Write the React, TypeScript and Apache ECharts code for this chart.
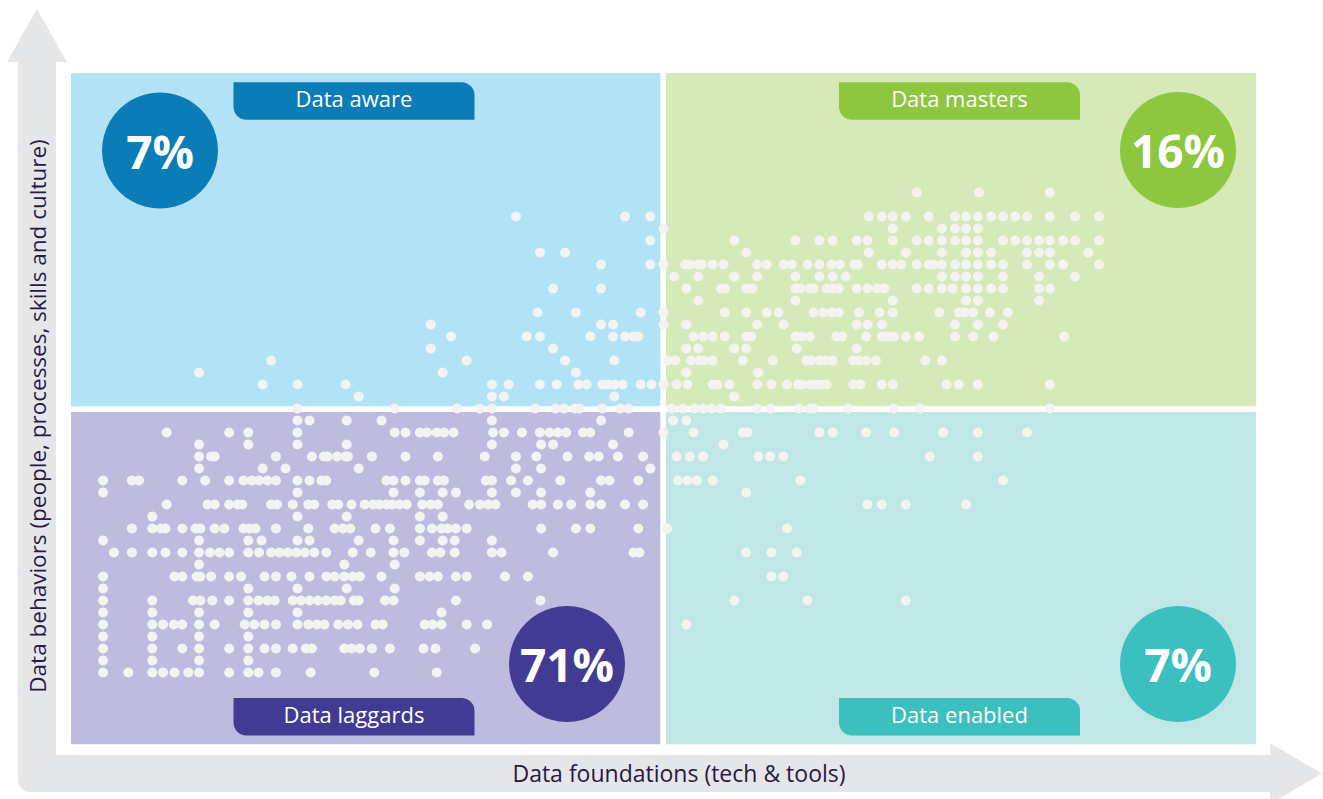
import { useEffect, useRef } from "react";
import * as echarts from "echarts";

// ---- Data ----
const quadrantNames = ["Data aware", "Data masters", "Data laggards", "Data enabled"];
const quadrantShares = ["7%", "16%", "71%", "7%"];
const xAxisTitle = "Data foundations (tech & tools)";
const yAxisTitle = "Data behaviors (people, processes, skills and culture)";

// behaviour level of each row of respondents (0 = threshold between low and high)
const behaviourLevels = [
  18, 16, 15, 14, 13, 12, 11, 10, 9, 8, 7, 6, 5, 4, 3, 2, 1, 0,
  -1, -2, -3, -4, -5, -6, -7, -8, -9, -10, -11, -12, -13, -14, -15, -16, -17, -18, -19, -20, -21, -22,
];

// foundation scores of the respondents in each row (0 = threshold)
const foundationScores: number[][] = [
  [21.1, 26.3, 32.2],
  [-12.3, -3.2, -1.1, 17.1, 18.2, 19.1, 20.2, 22.1, 24.3, 25.2, 26.2, 27.3, 28.3, 29.3, 30.3, 32.2, 34.3, 36.3],
  [0, 19.1, 23.2, 24.3, 25.2, 26.2],
  [-1.1, 5.9, 11.0, 13.0, 14.1, 16.1, 17.0, 19.1, 21.1, 22.1, 23.2, 24.3, 25.2, 26.2, 28.3, 29.3, 30.3, 31.3, 32.2, 33.3, 34.3, 36.3],
  [-10.3, -8.2, 6.9, 17.1, 20.2, 23.2, 25.2, 26.2, 27.3, 30.3, 31.3, 32.2, 35.4],
  [-5.2, -1.1, 0, 1.8, 2.2, 2.9, 3.2, 4.1, 5.0, 7.8, 8.6, 10.0, 10.7, 12.0, 13.0, 14.0, 14.7, 15.9, 16.2, 18.2, 19.1, 19.8, 21.1, 22.1, 22.5, 23.2, 24.3, 25.2, 26.2, 27.3, 28.3, 30.3, 32.2, 33.3, 36.3],
  [0.9, 2.9, 5.9, 7.8, 11.0, 13.0, 14.1, 15.2, 23.2, 24.3, 25.2, 26.2, 28.3, 31.3, 34.3],
  [-9.2, -5.2, 1.9, 4.8, 5.1, 6.9, 7.4, 11.0, 11.4, 12.2, 12.5, 13.6, 14.1, 14.6, 16.1, 17.0, 17.8, 18.4, 21.1, 22.1, 23.2, 24.1, 25.2, 26.2, 27.3, 28.3, 31.3, 32.2],
  [2.9, 11.0, 19.1, 25.2, 26.2, 31.3],
  [-10.5, -7.3, -1.9, 0, 5.1, 6.9, 8.6, 9.6, 12.5, 13.3, 14.0, 14.6, 16.3, 18.0, 19.1, 23.0, 24.6, 25.1, 25.8, 27.2, 28.7],
  [-19.4, -5.2, -4.2, 0, 1.9, 7.8, 10.0, 16.1, 17.0, 18.2, 24.3, 26.2, 28.3],
  [-17.7, -11.4, -10.3, -6.1, -4.2, -3.2, -2.5, -2.1, 2.5, 3.3, 4.1, 5.1, 6.9, 7.3, 11.0, 11.5, 12.2, 14.4, 14.9, 16.9, 18.2, 18.7, 19.2, 20.2, 21.3, 24.3, 25.8, 27.5, 33.4],
  [-19.4, -9.2, 1.9, 2.9, 5.9, 6.9, 11.1, 16.1],
  [-32.7, -16.4, -8.2, -4.1, 0.4, 1.0, 2.3, 3.0, 3.4, 4.1, 6.6, 9.1, 11.9, 12.3, 13.0, 13.5, 14.1, 15.8, 16.3, 16.9, 17.7, 21.8, 23.2],
  [-38.7, -18.4, -7.3, 1.9, 7.9],
  [-33.4, -30.5, -26.5, -14.3, -12.9, -10.3, -8.9, -7.1, -6.4, -5.1, -4.6, -4.1, -3.4, -1.9, -1.0, 0, 1.1, 2.0, 4.1, 4.5, 5.5, 7.8, 9.0, 10.3, 11.2, 11.5, 12.2, 12.7, 13.2, 13.6, 15.8, 16.4, 18.2, 19.1, 23.6, 24.6, 26.2, 32.2],
  [-25.4, -14.3, -13.3, -4.1, 5.9],
  [-30.5, -22.4, -17.2, -15.3, -14.3, -10.7, -9.0, -8.3, -7.4, -7.0, -5.1, -3.6, -2.9, 0.7, 1.6, 2.6, 3.3, 4.0, 4.8, 7.8, 8.9, 11.3, 12.2, 12.5, 15.4, 19.2, 21.4, 32.2],
  [-30.5, -29.5, -26.4, -23.5, -14.3, -5.2, 0.8, 1.9],
  [-41.4, -36.2, -34.6, -30.5, -22.4, -21.5, -20.3, -19.7, -18.9, -18.3, -17.5, -14.2, -13.3, -11.8, -10.3, -9.5, -8.8, -8.1, -6.7, -6.1, -2.9, 0, 2.5, 6.6, 7.0, 13.0, 14.1, 16.9, 19.2, 23.3, 26.2, 30.3],
  [-38.7, -34.6, -30.5, -26.4, -14.3, -10.2, -9.2, -4.2, 5.0],
  [-38.7, -37.7, -37.4, -32.3, -29.3, -28.3, -28.0, -27.2, -26.5, -26.3, -24.3, -21.5, -18.8, -14.9, -12.3, -10.6, -8.0, -6.2, -5.4, -3.8, -1.7, 1.1, 2.2, 3.3, 7.9, 8.9, 10.0, 22.2, 26.2],
  [-38.7, -33.4, -31.5, -25.4, -12.3, -10.2, -1.1],
  [-46.7, -44.3, -43.7, -40.1, -38.2, -36.2, -35.0, -34.3, -33.7, -33.0, -32.3, -30.5, -29.5, -28.5, -28.1, -23.1, -22.5, -21.5, -20.3, -19.9, -18.8, -18.3, -14.8, -14.3, -12.7, -11.3, -8.6, -5.2, -4.5, -2.1, 1.2, 2.0, 2.8, 4.1, 11.4, 28.3],
  [-46.7, -30.5, -22.5, -20.3, -18.4, -17.3, -14.3, -12.3, -10.2, -6.1, 6.9],
  [-41.4, -38.0, -37.4, -36.2, -35.5, -35.1, -32.7, -32.2, -30.9, -29.6, -29.1, -27.6, -27.1, -26.0, -24.9, -24.2, -23.7, -23.1, -22.6, -22.0, -21.4, -20.1, -19.4, -18.8, -16.2, -15.3, -14.6, -14.0, -10.9, -10.2, -8.8, -7.7, -6.1, -5.2, -3.2, -1.7, 17.0, 18.2, 20.2, 25.2],
  [-42.6, -30.5, -26.4, -20.3, -18.4],
  [-44.3, -42.6, -41.9, -41.5, -40.1, -39.0, -38.6, -37.4, -36.6, -35.0, -34.5, -34.0, -32.3, -29.6, -27.4, -26.7, -26.1, -24.0, -22.8, -20.3, -19.3, -18.5, -18.0, -17.3, -16.4, -10.2, -7.3, -6.1, -2.1, 0.3, 10.3],
  [-46.7, -38.7, -34.6, -33.5, -30.5, -29.5, -25.4, -22.5, -20.3, -18.4, -17.4, -14.3],
  [-45.8, -44.3, -42.6, -41.5, -40.1, -38.7, -37.8, -37.0, -36.2, -34.6, -33.7, -32.7, -32.0, -31.3, -30.6, -29.9, -29.1, -28.1, -25.9, -24.4, -22.5, -21.6, -19.3, -18.6, -17.4, -14.3, -13.5, -9.2, -2.5, -2.0, 6.9, 9.0, 11.1],
  [-38.7, -26.6, -22.4],
  [-46.7, -40.75, -40.1, -38.9, -38.6, -37.7, -36.2, -35.2, -33.25, -32.3, -31.0, -29.5, -28.1, -27.4, -26.6, -25.9, -25.3, -23.5, -20.3, -19.5, -18.8, -17.3, -16.4, -13.2, -11.3, 9.0, 10.0],
  [-46.7, -34.6, -30.5, -26.4, -22.4],
  [-46.7, -42.6, -39.2, -38.6, -37.6, -36.2, -34.6, -33.75, -33.0, -32.4, -30.9, -30.2, -29.5, -28.8, -28.1, -27.4, -26.9, -25.8, -25.4, -23.2, -22.5, -17.3, -10.25, 5.9, 12.0, 20.2],
  [-46.7, -42.6, -38.7, -34.6, -30.5, -18.5],
  [-46.7, -42.6, -41.7, -40.8, -40.1, -38.7, -37.4, -34.9, -34.1, -33.25, -32.3, -30.5, -29.6, -28.9, -28.25, -27.1, -26.3, -25.5, -24.0, -23.4, -19.9, -19.25, -18.5, -16.4, -14.7, 1.9],
  [-46.7, -42.6, -38.7, -34.6],
  [-46.7, -42.6, -40.1, -38.7, -36.2, -34.6, -33.25, -32.3, -30.9, -29.8, -29.3, -26.6, -26.0, -25.3, -24.3, -22.8, -20.0, -19.0, -15.7],
  [-46.7, -42.6, -38.7, -34.6],
  [-46.7, -44.6, -42.6, -41.7, -40.75, -39.6, -38.7, -36.2, -34.6, -33.75, -32.3, -29.4, -24.1, -18.9],
];

const axisExtentX = 49.375;
const axisExtentY = 27.96;

// ---- Styles ----
const accentColors = ["#0A7DB8", "#8DC63F", "#423B94", "#3CBFBF"];
const panelColors = ["#B2E2F5", "#D6E9B8", "#BDBCDF", "#C0E6E6"];
const dotColor = "#F3F3F1";
const arrowColor = "#E5E6E8";
const titleColor = "#2A1848";
const FONT = "'Open Sans', 'Noto Sans', sans-serif";

const panelRects = [
  { x: 71, y: 73, width: 589.3, height: 333.3 },
  { x: 666, y: 73, width: 590, height: 333.3 },
  { x: 71, y: 412, width: 589.3, height: 332.3 },
  { x: 666, y: 412, width: 590, height: 332.3 },
];
const tabRects = [
  { x: 233.5, y: 82.3, width: 241, height: 37.5 },
  { x: 839, y: 82.3, width: 241, height: 37.5 },
  { x: 233.5, y: 698, width: 241, height: 37.5 },
  { x: 839, y: 698, width: 241, height: 37.5 },
];
const badgeCenters = [
  { cx: 160, cy: 150.5 },
  { cx: 1178, cy: 150 },
  { cx: 567, cy: 664 },
  { cx: 1178, cy: 664 },
];

export default function App() {
  const ref = useRef<HTMLDivElement>(null);

  useEffect(() => {
    document.body.style.margin = "0";
    if (!ref.current) return;
    const chart = echarts.init(ref.current, undefined, { renderer: "svg" });

    const points = behaviourLevels.flatMap((level, i) =>
      foundationScores[i].map((score) => [score, level])
    );

    const elements: any[] = [];
    // axis arrows
    elements.push(
      { type: "rect", z: 0, shape: { x: 18, y: 60, width: 38, height: 732, r: [0, 0, 0, 12] }, style: { fill: arrowColor } },
      { type: "rect", z: 0, shape: { x: 18, y: 755, width: 1256, height: 37, r: [0, 0, 0, 12] }, style: { fill: arrowColor } },
      { type: "polygon", z: 0, shape: { points: [[37, 9], [67, 62], [7, 62]] }, style: { fill: arrowColor } },
      { type: "polygon", z: 0, shape: { points: [[1322, 773.5], [1270, 743], [1270, 804]] }, style: { fill: arrowColor } }
    );
    panelRects.forEach((r, i) => {
      elements.push({ type: "rect", z: 0, shape: r, style: { fill: panelColors[i] } });
    });
    tabRects.forEach((r, i) => {
      elements.push({
        type: "rect",
        z: 10,
        shape: { ...r, r: [0, 13, 0, 13] },
        style: { fill: accentColors[i] },
      });
      elements.push({
        type: "text",
        z: 11,
        x: r.x + r.width / 2,
        y: r.y + 16,
        style: {
          text: quadrantNames[i],
          fill: "#FFFFFF",
          fontSize: 22,
          fontFamily: FONT,
          fontWeight: 400,
          textAlign: "center",
          align: "center",
          textVerticalAlign: "middle",
          verticalAlign: "middle",
        },
      });
    });
    badgeCenters.forEach((c, i) => {
      elements.push({ type: "circle", z: 10, shape: { cx: c.cx, cy: c.cy, r: 58 }, style: { fill: accentColors[i] } });
      elements.push({
        type: "text",
        z: 11,
        x: c.cx,
        y: c.cy,
        style: {
          text: quadrantShares[i],
          fill: "#FFFFFF",
          fontSize: 46,
          fontFamily: FONT,
          fontWeight: "bold",
          textAlign: "center",
          align: "center",
          textVerticalAlign: "middle",
          verticalAlign: "middle",
        },
      });
    });
    elements.push({
      type: "text",
      z: 11,
      x: 679,
      y: 773,
      style: {
        text: xAxisTitle,
        fill: titleColor,
        fontSize: 23,
        fontFamily: FONT,
        textAlign: "center",
        align: "center",
        textVerticalAlign: "middle",
        verticalAlign: "middle",
      },
    });
    elements.push({
      type: "text",
      z: 11,
      x: 37,
      y: 416,
      rotation: Math.PI / 2,
      style: {
        text: yAxisTitle,
        fill: titleColor,
        fontSize: 22.5,
        fontFamily: FONT,
        textAlign: "center",
        align: "center",
        textVerticalAlign: "middle",
        verticalAlign: "middle",
      },
    });

    chart.setOption({
      animation: false,
      backgroundColor: "#FFFFFF",
      grid: { left: 71, right: 67, top: 73, bottom: 55 },
      xAxis: {
        type: "value",
        min: -axisExtentX,
        max: axisExtentX,
        show: false,
        splitLine: { show: false },
      },
      yAxis: {
        type: "value",
        min: -axisExtentY,
        max: axisExtentY,
        show: false,
        splitLine: { show: false },
      },
      graphic: { elements },
      series: [
        {
          type: "scatter",
          z: 5,
          symbol: "circle",
          symbolSize: 10,
          itemStyle: { color: dotColor, opacity: 1 },
          data: points,
          silent: true,
        },
      ],
    });

    return () => chart.dispose();
  }, []);

  return <div ref={ref} style={{ width: 1323, height: 799 }} />;
}
